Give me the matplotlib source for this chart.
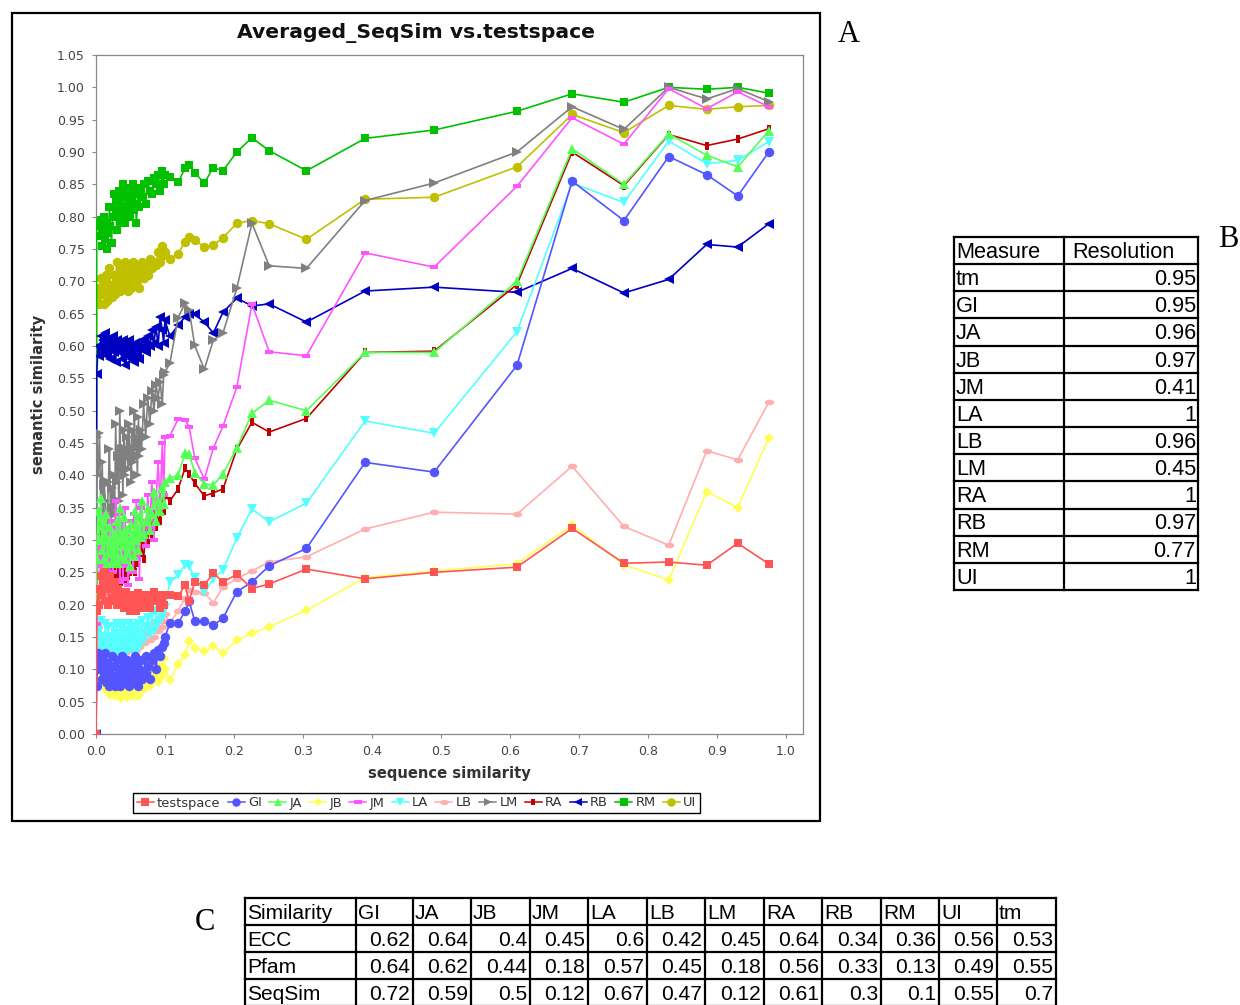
"""Averaged_SeqSim chart (panel A) with the two resolution/similarity tables."""
import matplotlib
matplotlib.use('Agg')
import matplotlib.pyplot as plt
from matplotlib.lines import Line2D
from matplotlib.patches import Rectangle
from matplotlib.path import Path
from matplotlib.transforms import Affine2D

W, H = 1240, 1005

seq_sim = [0.0,
           .001, .003, .005, .007, .009, .0105, .012, .0135, .015, .0165, .018,
           .0195, .021, .0225, .024, .0255, .027, .0285, .03, .0315, .033, .0345,
           .036, .0375, .039, .0405, .042, .0435, .045, .0465, .048, .0495, .051,
           .0525, .054, .0555, .057, .0585, .06, .0615, .063, .0645, .066, .069,
           .072, .075, .078, .081, .084, .087, .09, .093, .096, .098, .1,
           .107, .119, .129, .135, .143, .157, .17, .184, .204, .226, .251,
           .305, .39, .49, .61, .69, .765, .83, .885, .93, .975]

testspace = [0,
             .19, .225, .20, .245, .215, .235, .25, .205, .225, .24, .20,
             .23, .245, .21, .205, .225, .235, .215, .20, .225, .21, .205,
             .22, .20, .215, .195, .21, .22, .20, .215, .205, .19, .21,
             .195, .215, .20, .21, .19, .205, .218, .20, .21, .195, .205,
             .215, .20, .195, .21, .22, .205, .215, .195, .21, .20, .215,
             .215, .213, .23, .206, .235, .23, .249, .235, .247, .225, .232,
             .255, .24, .25, .258, .318, .264, .266, .261, .295, .263]
gi = [0,
      .075, .125, .10, .12, .085, .115, .095, .125, .08, .11, .10,
      .075, .09, .12, .085, .105, .075, .09, .115, .08, .10, .075,
      .095, .12, .085, .105, .08, .10, .115, .09, .075, .105, .085,
      .11, .08, .095, .12, .09, .105, .075, .10, .115, .085, .095,
      .12, .105, .085, .115, .125, .10, .13, .12, .135, .14, .15,
      .171, .171, .19, .205, .175, .175, .168, .179, .22, .235, .26,
      .287, .42, .405, .57, .855, .794, .893, .865, .832, .90]
ja = [0,
      .27, .345, .30, .365, .285, .33, .27, .31, .34, .265, .30,
      .28, .32, .265, .295, .27, .31, .28, .33, .265, .30, .35,
      .275, .31, .29, .335, .27, .295, .315, .28, .30, .26, .325,
      .29, .31, .275, .345, .30, .32, .285, .335, .305, .36, .31,
      .33, .35, .315, .34, .375, .33, .36, .345, .38, .355, .39,
      .396, .40, .434, .433, .404, .387, .385, .402, .442, .496, .516,
      .50, .59, .59, .70, .905, .85, .928, .895, .877, .933]
jb = [0,
      .10, .115, .09, .105, .085, .10, .075, .09, .07, .085, .065,
      .08, .06, .075, .09, .06, .08, .058, .07, .085, .06, .075,
      .056, .065, .08, .06, .07, .085, .057, .075, .062, .08, .058,
      .07, .06, .075, .065, .058, .08, .068, .06, .075, .085, .07,
      .08, .09, .075, .10, .085, .095, .08, .105, .09, .118, .10,
      .083, .108, .122, .144, .133, .128, .136, .125, .145, .156, .166,
      .191, .242, .252, .263, .323, .262, .238, .375, .35, .458]
jm = [0,
      .17, .28, .305, .26, .32, .25, .29, .34, .24, .27, .31,
      .235, .29, .33, .25, .28, .32, .36, .27, .30, .34, .235,
      .28, .33, .24, .29, .35, .26, .31, .23, .27, .33, .28,
      .30, .25, .34, .29, .36, .27, .31, .24, .35, .30, .33,
      .29, .37, .32, .39, .30, .36, .42, .35, .45, .37, .46,
      .461, .487, .486, .475, .427, .394, .442, .476, .536, .665, .591,
      .585, .744, .722, .847, .953, .912, .998, .967, .993, .97]
la = [0,
      .16, .17, .13, .175, .125, .15, .135, .17, .13, .145, .165,
      .125, .15, .13, .165, .14, .155, .135, .17, .125, .15, .14,
      .165, .13, .155, .17, .145, .125, .16, .135, .17, .14, .155,
      .13, .165, .145, .125, .16, .14, .17, .135, .155, .175, .145,
      .165, .18, .155, .185, .16, .19, .17, .195, .18, .19, .195,
      .235, .246, .261, .26, .241, .22, .24, .254, .303, .348, .328,
      .357, .484, .465, .622, .852, .822, .917, .882, .887, .916]
lb = [0,
      .125, .165, .135, .12, .15, .125, .14, .13, .155, .135, .145,
      .125, .15, .13, .14, .155, .125, .145, .13, .15, .135, .125,
      .145, .13, .155, .14, .125, .15, .135, .145, .13, .155, .14,
      .13, .15, .14, .16, .13, .145, .155, .135, .15, .16, .14,
      .155, .165, .145, .17, .15, .175, .16, .18, .165, .175, .185,
      .172, .19, .21, .222, .22, .218, .203, .227, .24, .252, .266,
      .274, .317, .343, .34, .414, .321, .292, .438, .424, .513]
lm = [0,
      .46, .40, .465, .345, .42, .33, .385, .36, .30, .34, .39,
      .44, .33, .38, .35, .40, .34, .48, .39, .43, .36, .50,
      .41, .44, .37, .47, .40, .44, .46, .41, .48, .43, .39,
      .47, .42, .50, .44, .46, .40, .49, .43, .47, .44, .51,
      .46, .52, .48, .53, .50, .54, .52, .545, .51, .555, .56,
      .573, .644, .666, .656, .601, .564, .609, .62, .689, .79, .724,
      .72, .825, .852, .90, .97, .935, 1.0, .982, .998, .978]
ra = [0,
      .265, .29, .31, .245, .30, .26, .285, .25, .27, .24, .29,
      .25, .275, .235, .265, .30, .24, .27, .285, .245, .28, .255,
      .235, .27, .25, .29, .24, .265, .28, .245, .275, .25, .285,
      .26, .295, .27, .25, .30, .275, .265, .31, .28, .295, .27,
      .315, .295, .33, .31, .34, .32, .35, .33, .36, .345, .37,
      .36, .379, .411, .402, .388, .368, .373, .379, .44, .482, .467,
      .488, .59, .592, .695, .90, .848, .927, .91, .92, .936]
rb = [0,
      .556, .60, .585, .615, .595, .61, .59, .62, .60, .585, .61,
      .595, .58, .605, .615, .59, .60, .575, .61, .60, .59, .605,
      .595, .58, .61, .60, .57, .59, .605, .585, .61, .595, .58,
      .60, .59, .575, .605, .595, .585, .60, .58, .595, .61, .60,
      .59, .615, .60, .625, .605, .63, .60, .645, .625, .605, .64,
      .615, .632, .645, .65, .649, .637, .62, .652, .674, .662, .665,
      .637, .685, .691, .683, .72, .682, .703, .757, .753, .789]
rm = [0,
      .785, .79, .77, .795, .755, .78, .80, .765, .79, .75, .775,
      .815, .785, .76, .80, .835, .80, .825, .78, .81, .84, .79,
      .83, .80, .85, .815, .79, .845, .81, .835, .82, .80, .84,
      .825, .85, .81, .835, .79, .82, .845, .815, .84, .83, .85,
      .82, .855, .84, .835, .86, .85, .865, .84, .87, .85, .865,
      .862, .853, .875, .88, .868, .852, .876, .871, .90, .922, .902,
      .871, .921, .934, .963, .99, .977, 1.0, .997, 1.0, .991]
ui = [0,
      .67, .69, .665, .705, .68, .70, .665, .695, .71, .67, .685,
      .72, .695, .675, .69, .71, .68, .70, .73, .69, .71, .685,
      .72, .70, .715, .69, .73, .70, .71, .685, .72, .705, .69,
      .715, .73, .695, .72, .71, .70, .725, .69, .715, .73, .705,
      .725, .71, .735, .72, .73, .725, .745, .73, .755, .74, .745,
      .735, .743, .761, .769, .764, .753, .756, .767, .79, .794, .789,
      .765, .827, .83, .877, .958, .93, .972, .966, .97, .972]

series_names = ['testspace', 'GI', 'JA', 'JB', 'JM', 'LA', 'LB', 'LM', 'RA', 'RB', 'RM', 'UI']
series_vals = [testspace, gi, ja, jb, jm, la, lb, lm, ra, rb, rm, ui]
series_colors = ['#FF5555', '#5555FF', '#55FF55', '#FFFF55', '#FF55FF', '#55FFFF',
                 '#FFAFAF', '#808080', '#C00000', '#0000C0', '#00C000', '#C0C000']

measures = ['tm', 'GI', 'JA', 'JB', 'JM', 'LA', 'LB', 'LM', 'RA', 'RB', 'RM', 'UI']
resolution = ['0.95', '0.95', '0.96', '0.97', '0.41', '1', '0.96', '0.45', '1', '0.97', '0.77', '1']

sim_header = ['Similarity', 'GI', 'JA', 'JB', 'JM', 'LA', 'LB', 'LM', 'RA', 'RB', 'RM', 'UI', 'tm']
ecc_row = ['ECC', '0.62', '0.64', '0.4', '0.45', '0.6', '0.42', '0.45', '0.64', '0.34', '0.36', '0.56', '0.53']
pfam_row = ['Pfam', '0.64', '0.62', '0.44', '0.18', '0.57', '0.45', '0.18', '0.56', '0.33', '0.13', '0.49', '0.55']
seqsim_row = ['SeqSim', '0.72', '0.59', '0.5', '0.12', '0.67', '0.47', '0.12', '0.61', '0.3', '0.1', '0.55', '0.7']

# odd marker shapes used by the chart
wide_rect = Path([(-1, -.5), (1, -.5), (1, .5), (-1, .5), (-1, -.5)], closed=True)
tall_rect = Path([(-.6, -1), (.6, -1), (.6, 1), (-.6, 1), (-.6, -1)], closed=True)
wide_oval = Path.unit_circle().transformed(Affine2D().scale(1, .6))
series_markers = ['s', 'o', '^', 'D', wide_rect, 'v', wide_oval, '>', tall_rect, '<', 's', 'o']
marker_sizes = [6.4, 6.8, 6.8, 5.0, 6.2, 6.8, 6.8, 6.8, 5.2, 6.8, 6.4, 6.8]


def px_axes(fig, x0, y0, x1, y1):
    """Axes placed from pixel coordinates (y counted from the top)."""
    return fig.add_axes([x0 / W, 1 - y1 / H, (x1 - x0) / W, (y1 - y0) / H])


def draw_table(ov, rows, col_x, top, row_h, fs, head_pad=2, num_pad=2):
    """Ruled table, first row/col left aligned and numbers right aligned."""
    n = len(rows)
    bottom = top + n * row_h
    for i in range(n + 1):
        ov.plot([col_x[0], col_x[-1]], [top + i * row_h] * 2, color='black', lw=1.6,
                solid_capstyle='projecting')
    for x in col_x:
        ov.plot([x, x], [top, bottom], color='black', lw=1.6)
    for r, row in enumerate(rows):
        ty = top + (r + 0.57) * row_h
        for c, val in enumerate(row):
            if c == 0:
                ov.text(col_x[c] + 2, ty, val, ha='left', va='center', fontsize=fs,
                        family='Liberation Sans', clip_on=True)
            elif r == 0:
                ov.text(col_x[c] + head_pad, ty, val, ha='left', va='center', fontsize=fs,
                        family='Liberation Sans', clip_on=True)
            else:
                ov.text(col_x[c + 1] - num_pad, ty, val, ha='right', va='center', fontsize=fs,
                        family='Liberation Sans', clip_on=True)


def main():
    fig = plt.figure(figsize=(W / 100, H / 100), dpi=100, facecolor='white')

    # full figure overlay in pixels, for frame, labels and tables
    ov = fig.add_axes([0, 0, 1, 1])
    ov.set_xlim(0, W)
    ov.set_ylim(H, 0)
    ov.axis('off')
    ov.add_patch(Rectangle((12, 13), 808, 808, fill=False, ec='black', lw=1.6))
    ov.text(416, 33, 'Averaged_SeqSim vs.testspace', ha='center', va='center',
            fontsize=14.7, fontweight='bold', color='#111111')
    for label, lx, ly in [('A', 849, 34), ('B', 1228, 239), ('C', 205, 922)]:
        ov.text(lx, ly, label, ha='center', va='center', fontsize=22, family='Liberation Serif')

    draw_table(ov, [['Measure', 'Resolution']] + [[m, v] for m, v in zip(measures, resolution)],
               [954, 1064, 1198], 237, 27.15, 15.7, head_pad=8)
    table_cols = [245, 356, 413, 471, 530, 588, 647, 705, 764, 822, 881, 939, 997, 1056]
    draw_table(ov, [sim_header, ecc_row, pfam_row, seqsim_row], table_cols, 898, 27, 15.1, num_pad=3)

    # panel A
    ax = px_axes(fig, 96, 55, 803, 734)
    for i, (name, vals) in enumerate(zip(series_names, series_vals)):
        ax.plot(seq_sim, vals, color=series_colors[i], lw=1.2, marker=series_markers[i],
                ms=marker_sizes[i], mew=0, label=name, zorder=20 - i, clip_on=True)
    ax.set_xlim(0, 1.0246)
    ax.set_ylim(0, 1.05)
    ax.set_xticks([i / 10 for i in range(11)])
    ax.set_yticks([i * 0.05 for i in range(22)])
    ax.set_yticklabels([f'{i * 0.05:.2f}' for i in range(22)])
    ax.tick_params(labelsize=9, colors='#888888', labelcolor='#444444', length=3, width=0.8, pad=5)
    for spine in ax.spines.values():
        spine.set_color('#888888')
        spine.set_linewidth(0.9)
    ax.set_xlabel('sequence similarity', fontsize=10.6, fontweight='bold', color='#333333', labelpad=6)
    ax.set_ylabel('semantic similarity', fontsize=10.6, fontweight='bold', color='#333333', labelpad=7.5)

    handles = [Line2D([], [], color=series_colors[i], lw=1.1, marker=series_markers[i],
                      ms=marker_sizes[i] * 0.9, mew=0) for i in range(len(series_names))]
    leg = fig.legend(handles, series_names, loc='center', ncol=12,
                     bbox_to_anchor=(416.5 / W, 1 - 803 / H), fontsize=9.4, frameon=True,
                     fancybox=False, edgecolor='black', framealpha=1, borderpad=0.3,
                     handlelength=1.3, handletextpad=0.25, columnspacing=0.56,
                     borderaxespad=0, labelcolor='#333333')
    leg.get_frame().set_linewidth(1.0)

    fig.savefig('out.png', dpi=100, facecolor='white')


if __name__ == '__main__':
    main()
